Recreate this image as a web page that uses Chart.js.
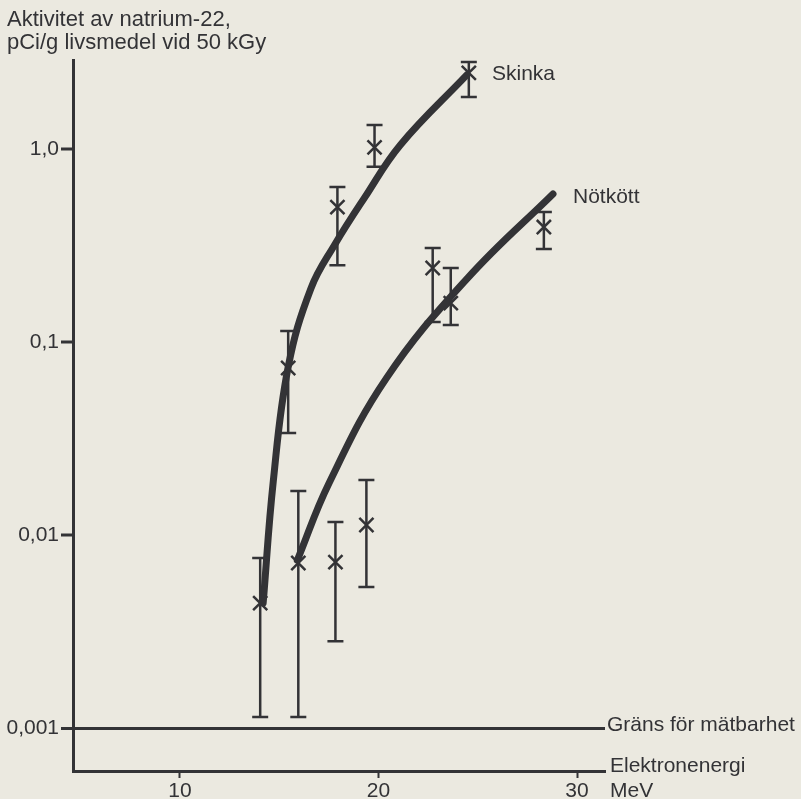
<!DOCTYPE html>
<html>
<head>
<meta charset="utf-8">
<script src="https://cdn.jsdelivr.net/npm/chart.js@4/dist/chart.umd.min.js"></script>
<style>
html, body { margin: 0; padding: 0; background: #ebe9e0; }
#wrap { width: 801px; height: 799px; position: relative; }
</style>
</head>
<body>
<div id="wrap"><canvas id="c" width="801" height="799"></canvas></div>
<script>
// data (energy in MeV, activity in pCi/g)
const yTicks = [0.001, 0.01, 0.1, 1];
const yTickLabels = ["0,001", "0,01", "0,1", "1,0"];
const xTicks = [10, 20, 30];

const skinkaE   = [14.04, 15.45, 17.93, 19.8, 24.55];
const skinkaVal = [0.00444, 0.0733, 0.50, 1.02, 2.48];
const skinkaHi  = [0.0076, 0.114, 0.636, 1.33, 2.82];
const skinkaLo  = [0.00114, 0.0338, 0.25, 0.81, 1.86];

const notE   = [15.96, 17.83, 19.39, 22.73, 23.64, 28.33];
const notVal = [0.00716, 0.00724, 0.01127, 0.2417, 0.159, 0.394];
const notHi  = [0.0169, 0.01167, 0.0193, 0.307, 0.2417, 0.472];
const notLo  = [0.00114, 0.00282, 0.00538, 0.127, 0.1226, 0.303];

const skinkaCurveE = [14.19, 14.7, 15.45, 16.6, 17.8, 19.3, 21.1, 24.45];
const skinkaCurveV = [0.00444, 0.019, 0.0742, 0.19, 0.32, 0.56, 1.05, 2.42];

const notCurveE = [15.91, 17.5, 20.4, 24.5, 28.79];
const notCurveV = [0.0074, 0.0185, 0.065, 0.215, 0.585];

const ink = "#333336";
const font = "'Liberation Sans', Arial, sans-serif";

function pts(xs, ys) {
	return xs.map((x, i) => ({ x: x, y: ys[i] }));
}

const errorBars = {
	id: "errorBars",
	afterDatasetsDraw(chart) {
		const ctx = chart.ctx;
		const xs = chart.scales.x, ys = chart.scales.y;
		const sets = [[skinkaE, skinkaHi, skinkaLo], [notE, notHi, notLo]];
		ctx.save();
		ctx.strokeStyle = ink;
		ctx.lineWidth = 2.5;
		for (const [e, hi, lo] of sets) {
			for (let i = 0; i < e.length; i++) {
				const px = xs.getPixelForValue(e[i]);
				const top = ys.getPixelForValue(hi[i]);
				const bot = ys.getPixelForValue(lo[i]);
				ctx.beginPath();
				ctx.moveTo(px, top); ctx.lineTo(px, bot);
				ctx.moveTo(px - 8, top); ctx.lineTo(px + 8, top);
				ctx.moveTo(px - 8, bot); ctx.lineTo(px + 8, bot);
				ctx.stroke();
			}
		}
		ctx.restore();
	}
};

const texts = {
	id: "texts",
	afterDraw(chart) {
		const ctx = chart.ctx;
		ctx.save();
		ctx.fillStyle = ink;
		ctx.textBaseline = "middle";
		ctx.textAlign = "left";
		ctx.font = "22px " + font;
		ctx.fillText("Aktivitet av natrium-22,", 7, 20);
		ctx.fillText("pCi/g livsmedel vid 50 kGy", 7, 43);
		ctx.font = "21px " + font;
		ctx.fillText("Skinka", 492, 74);
		ctx.fillText("Nötkött", 573, 197);
		ctx.fillText("Gräns för mätbarhet", 607, 725);
		ctx.fillText("Elektronenergi", 610, 766);
		ctx.fillText("MeV", 610, 791);
		ctx.restore();
	}
};

const curveStyle = {
	type: "line",
	showLine: true,
	borderColor: ink,
	borderWidth: 7,
	borderCapStyle: "round",
	pointRadius: 0,
	tension: 0.4,
	fill: false
};

const crossStyle = {
	showLine: false,
	pointStyle: "crossRot",
	pointRadius: 10,
	pointBorderWidth: 2.5,
	borderColor: ink,
	backgroundColor: ink
};

new Chart(document.getElementById("c"), {
	type: "scatter",
	data: {
		datasets: [
			Object.assign({ label: "Skinka kurva", data: pts(skinkaCurveE, skinkaCurveV) }, curveStyle),
			Object.assign({ label: "Nötkött kurva", data: pts(notCurveE, notCurveV) }, curveStyle),
			Object.assign({ label: "Skinka", data: pts(skinkaE, skinkaVal) }, crossStyle),
			Object.assign({ label: "Nötkött", data: pts(notE, notVal) }, crossStyle)
		]
	},
	options: {
		responsive: false,
		animation: false,
		layout: { padding: { top: 60, right: 196, left: 0, bottom: 0 } },
		plugins: { legend: { display: false }, tooltip: { enabled: false } },
		scales: {
			x: {
				type: "linear",
				min: 4.61,
				max: 31.41,
				afterBuildTicks: (s) => { s.ticks = xTicks.map(v => ({ value: v })); },
				afterFit: (s) => { s.height = 28; },
				border: { display: true, width: 3, color: ink },
				grid: { drawOnChartArea: false, tickLength: 7, tickWidth: 2, tickColor: ink, color: ink },
				ticks: { color: ink, padding: 1, font: { size: 21, family: font } }
			},
			y: {
				type: "logarithmic",
				min: 0.000599,
				max: 2.891,
				afterBuildTicks: (s) => { s.ticks = yTicks.map(v => ({ value: v })); },
				afterFit: (s) => { s.width = 73; },
				border: { display: true, width: 3, color: ink },
				grid: {
					drawOnChartArea: true,
					color: ink,
					lineWidth: (c) => (c.tick && c.tick.value === 0.001 ? 3 : 0),
					tickLength: 12,
					tickWidth: 3,
					tickColor: ink
				},
				ticks: {
					color: ink,
					padding: 2,
					font: { size: 21, family: font },
					callback: (v) => {
						const i = yTicks.indexOf(v);
						return i >= 0 ? yTickLabels[i] : "";
					}
				}
			}
		}
	},
	plugins: [errorBars, texts]
});
</script>
</body>
</html>
